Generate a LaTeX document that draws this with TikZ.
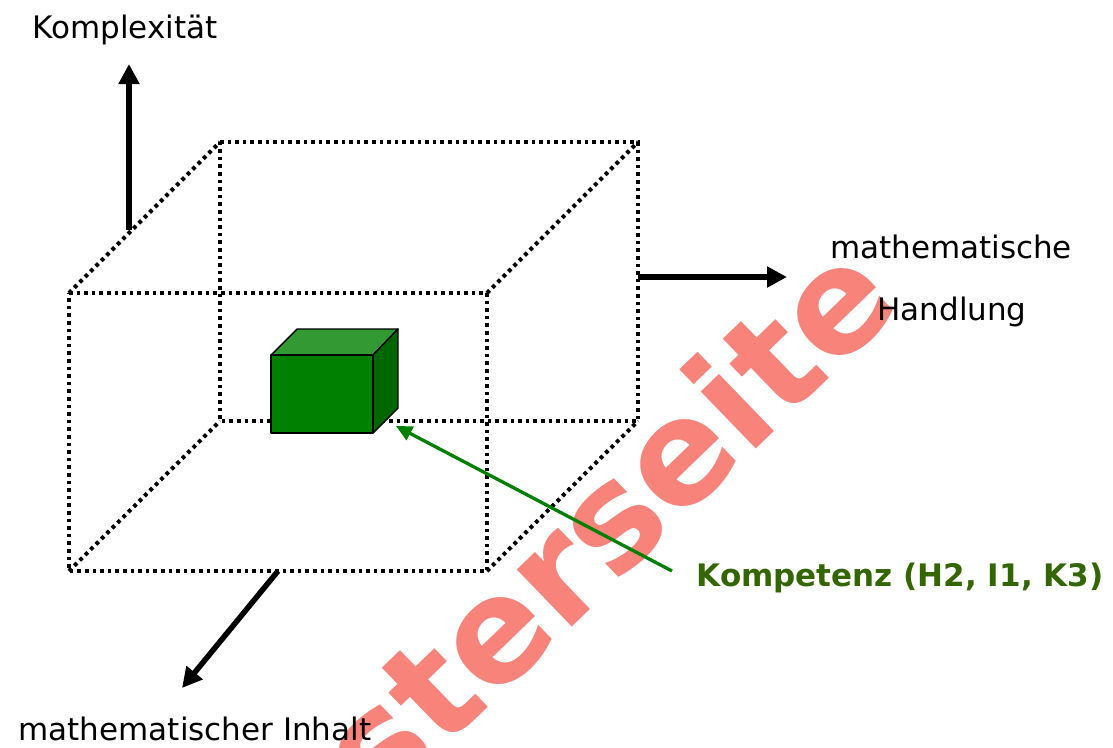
\documentclass[tikz,border=0pt]{standalone}
\usepackage{fontspec}
\setmainfont{DejaVu Sans}
\usetikzlibrary{arrows.meta}
\definecolor{wm}{RGB}{248,131,123}
\definecolor{cfront}{RGB}{0,128,0}
\definecolor{ctop}{RGB}{51,153,51}
\definecolor{cside}{RGB}{0,102,0}
\definecolor{kgreen}{RGB}{51,102,0}
\definecolor{agreen}{RGB}{0,128,0}
\begin{document}
\begin{tikzpicture}[x=1pt,y=-1pt,
  dotbox/.style={line width=4pt, dash pattern=on 3.6pt off 4pt},
  axisarrow/.style={line width=5.5pt, -{Triangle[length=20pt,width=20pt]}},
  greenarrow/.style={draw=agreen, line width=3.3pt, -{Triangle[length=16pt,width=15pt]}},
  lbl/.style={font=\fontsize{31}{37}\selectfont, inner sep=0pt, anchor=base},
  klbl/.style={font=\fontsize{31}{37}\selectfont\bfseries, text=kgreen, inner sep=0pt, anchor=base},
  wmtext/.style={font=\fontsize{145}{150}\selectfont\bfseries, text=wm, inner sep=0pt},
  cubeface/.style={draw=black, line width=1.4pt, line join=round}]
\useasboundingbox (0,0) rectangle (1113,747);
\clip (0,0) rectangle (1113,747);

% watermark
\node[wmtext, anchor=base east, rotate=44] (wmark) at (904,306) {Musterseite};

% dotted box corners
\coordinate (f1) at (69,293);
\coordinate (f2) at (487,293);
\coordinate (f3) at (487,571);
\coordinate (f4) at (69,571);
\coordinate (b1) at (220,142);
\coordinate (b2) at (638,142);
\coordinate (b3) at (638,421);
\coordinate (b4) at (220,421);

\draw[dotbox] (f1) -- (f2) -- (f3) -- (f4) -- cycle;
\draw[dotbox] (b1) -- (b2) -- (b3) -- (b4) -- cycle;
\draw[dotbox] (f1) -- (b1);
\draw[dotbox] (f2) -- (b2);
\draw[dotbox] (f3) -- (b3);
\draw[dotbox] (f4) -- (b4);

% small green cube
\coordinate (c1) at (271,355);
\coordinate (c2) at (373,355);
\coordinate (c3) at (373,433);
\coordinate (c4) at (271,433);
\coordinate (c5) at (297,329);
\coordinate (c6) at (398,329);
\coordinate (c7) at (398,408);
\fill[ctop, cubeface] (c1) -- (c5) -- (c6) -- (c2) -- cycle;
\fill[cside, cubeface] (c2) -- (c6) -- (c7) -- (c3) -- cycle;
\fill[cfront, cubeface] (c1) -- (c2) -- (c3) -- (c4) -- cycle;

% axis arrows
\coordinate (upS) at (129,230);
\coordinate (upE) at (129,64);
\coordinate (rtS) at (638,277);
\coordinate (rtE) at (787,277);
\coordinate (dlS) at (278,571);
\coordinate (dlE) at (182,688);
\draw[axisarrow] (upS) -- (upE);
\draw[axisarrow] (rtS) -- (rtE);
\draw[axisarrow] (dlS) -- (dlE);

% labels
\node[lbl] (komplex) at (125,38) {Komplexität};
\node[lbl] (mathe) at (951,258) {mathematische};
\node[lbl] (handl) at (952,320) {Handlung};
\node[lbl] (inhalt) at (195,740) {mathematischer Inhalt};
\node[klbl] (komp) at (900,586) {Kompetenz (H2, I1, K3)};

% green arrow
\coordinate (gS) at (672,571);
\coordinate (gE) at (396,426);
\draw[greenarrow] (gS) -- (gE);
\end{tikzpicture}
\end{document}
